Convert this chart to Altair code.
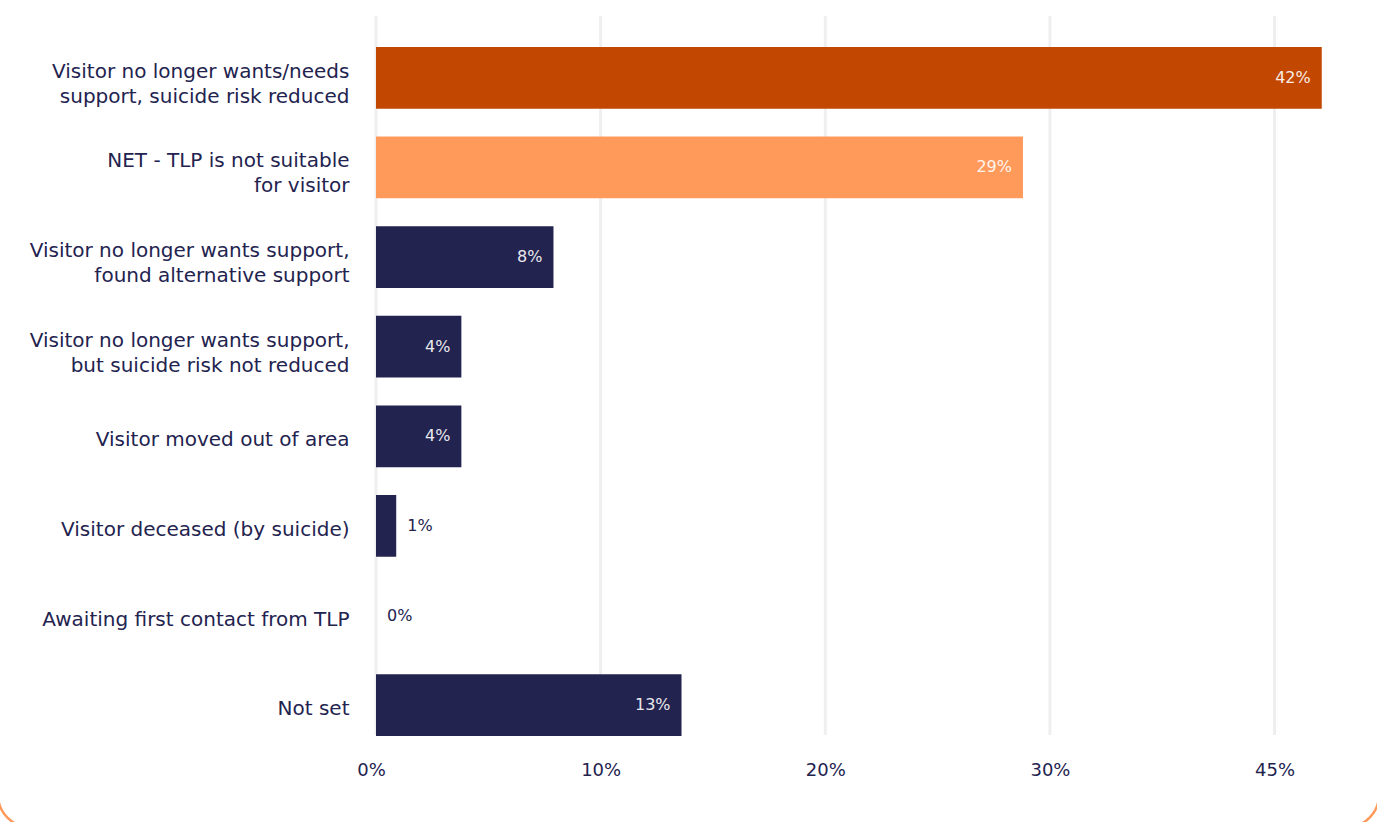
import altair as alt
import pandas as pd

categories = [
    "Visitor no longer wants/needs|support, suicide risk reduced",
    "NET - TLP is not suitable|for visitor",
    "Visitor no longer wants support,|found alternative support",
    "Visitor no longer wants support,|but suicide risk not reduced",
    "Visitor moved out of area",
    "Visitor deceased (by suicide)",
    "Awaiting first contact from TLP",
    "Not set",
]
values = [42.1, 28.8, 7.9, 3.8, 3.8, 0.9, 0.0, 13.6]
value_labels = ["42%", "29%", "8%", "4%", "4%", "1%", "0%", "13%"]
bar_colors = ["#C24700", "#FF9A5B", "#232350", "#232350", "#232350", "#232350", "#232350", "#232350"]
tick_values = [0, 10, 20, 30, 40]
tick_labels = ["0%", "10%", "20%", "30%", "45%"]

FONT = "DejaVu Sans"
NAVY = "#23234F"
PLOT_H = 719

df = pd.DataFrame({
    "cat": categories,
    "value": values,
    "label": value_labels,
    "color": bar_colors,
    "inside": [v >= 3 for v in values],
})
grid_df = pd.DataFrame({"t": tick_values})

label_expr = " : ".join(
    f"datum.value == {v} ? '{t}'" for v, t in zip(tick_values, tick_labels)
) + " : ''"

y_enc = alt.Y(
    "cat:N",
    sort=categories,
    title=None,
    scale=alt.Scale(range=[17, 734], paddingInner=0.31, paddingOuter=0.155),
    axis=alt.Axis(
        labelExpr="split(datum.label, '|')",
        labelFont=FONT,
        labelFontSize=20,
        labelColor=NAVY,
        labelLineHeight=25,
        labelPadding=27,
        labelOffset={"condition": {"test": "indexof(datum.label, '|') >= 0", "value": -6}, "value": 4},
        ticks=False,
        domain=False,
        grid=False,
        labelLimit=400,
    ),
)

x_enc = alt.X(
    "value:Q",
    title=None,
    scale=alt.Scale(domain=[0, 42.2], nice=False),
    axis=alt.Axis(
        values=tick_values,
        labelExpr=label_expr,
        labelFont=FONT,
        labelFontSize=18,
        labelColor=NAVY,
        labelPadding=26,
        labelFlush=False,
        labelOffset={"condition": {"test": "datum.value == 0", "value": -5}, "value": 0},
        ticks=False,
        domain=False,
        grid=False,
    ),
)

grid = alt.Chart(grid_df).mark_rule(color="#EFEFEF", strokeWidth=3).encode(
    x=alt.X("t:Q", scale=alt.Scale(domain=[0, 42.2], nice=False)),
    y=alt.value(0),
    y2=alt.value(PLOT_H),
)

base = alt.Chart(df)

bars = base.mark_bar().encode(
    x=x_enc,
    y=y_enc,
    color=alt.Color("color:N", scale=None),
)

inside_text = base.transform_filter("datum.inside").mark_text(
    align="right", baseline="middle", dx=-11, font=FONT, fontSize=16, color="#FFFFFF", opacity=0.9
).encode(x="value:Q", y=alt.Y("cat:N", sort=categories), text="label:N")

outside_text = base.transform_filter("!datum.inside").mark_text(
    align="left", baseline="middle", dx=11, font=FONT, fontSize=16, color=NAVY
).encode(x="value:Q", y=alt.Y("cat:N", sort=categories), text="label:N")

frame = alt.Chart(pd.DataFrame({"k": [0]})).mark_rect(
    fill="transparent", stroke="#FF9A5B", strokeWidth=2.5, cornerRadius=32
).encode(
    x=alt.value(-378), x2=alt.value(1003), y=alt.value(-60), y2=alt.value(811)
)

chart = alt.layer(frame, grid, bars, inside_text, outside_text).properties(
    width=948,
    height=PLOT_H,
    padding={"left": 376, "top": 16, "right": 53, "bottom": 87},
    autosize=alt.AutoSizeParams(type="none"),
    background="white",
).configure_view(stroke=None)

chart.save("out.html", embed_options={"renderer": "svg", "actions": False})
